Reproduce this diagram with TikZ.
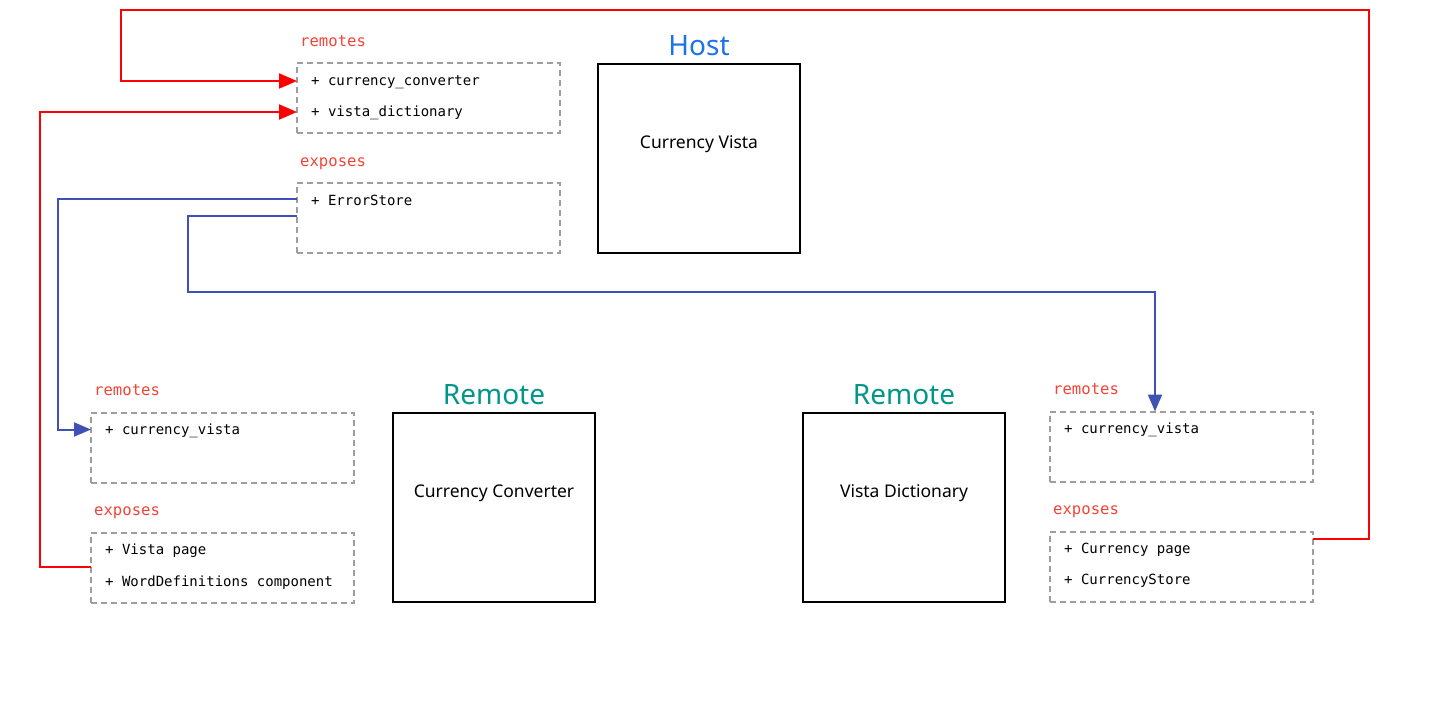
\documentclass[tikz,border=0pt]{standalone}
\usepackage{fontspec}
\setmainfont{Noto Sans}
\setmonofont{DejaVu Sans Mono}
\usetikzlibrary{positioning}
\usetikzlibrary{arrows.meta}
\usetikzlibrary{calc}
\definecolor{hostblue}{HTML}{1A73E8}
\definecolor{remoteteal}{HTML}{009688}
\definecolor{labelred}{HTML}{F44336}
\definecolor{dashgray}{HTML}{9E9E9E}
\definecolor{linkblue}{HTML}{3F51B5}

\begin{document}
\begin{tikzpicture}
  [x=1pt,y=-1pt,
  listbox/.style={draw=dashgray,line width=2pt,dash pattern=on 6pt off 4pt,minimum width=263pt,minimum height=70pt,inner sep=0pt,outer sep=0pt},
  appbox/.style={draw=black,line width=1.2pt,minimum width=202pt,minimum height=189pt,inner sep=0pt,outer sep=0pt},
  apptext/.style={inner sep=0pt,anchor=base,font=\fontsize{17.5}{20}\selectfont},
  hosttitle/.style={inner sep=0pt,anchor=base,text=hostblue,font=\fontsize{28}{32}\selectfont},
  remotetitle/.style={inner sep=0pt,anchor=base,text=remoteteal,font=\fontsize{28}{32}\selectfont},
  grouplabel/.style={inner sep=0pt,anchor=base west,text=labelred,font=\ttfamily\fontsize{15.6}{18}\selectfont},
  item/.style={inner sep=0pt,anchor=base west,font=\ttfamily\fontsize{14}{16}\selectfont},
  redlink/.style={draw=red,line width=2pt,-{Triangle[length=18pt,width=15pt]}},
  bluelink/.style={draw=linkblue,line width=2pt,-{Triangle[length=17pt,width=14pt]}}]
  \useasboundingbox (0,0) rectangle (1440,704);

  % host
  \node[hosttitle] (hosttitle) at (699,55) {Host};
  \node[appbox] (host) at (699,158.5) {};
  \node[apptext] (hostname) at (699,148) {Currency Vista};
  \node[grouplabel] (hremlabel) at (300,46) {remotes};
  \node[listbox] (hrem) at (428.5,98) {};
  \node[item] (hrem1) at (311,85) {+ currency\_converter};
  \node[item] (hrem2) at (311,116) {+ vista\_dictionary};
  \node[grouplabel] (hexplabel) at (300,166) {exposes};
  \node[listbox] (hexp) at (428.5,218) {};
  \node[item] (hexp1) at (311,205) {+ ErrorStore};

  % currency converter
  \node[remotetitle] (convtitle) at (494,404) {Remote};
  \node[appbox] (conv) at (494,507.5) {};
  \node[apptext] (convname) at (494,497) {Currency Converter};
  \node[grouplabel] (cremlabel) at (94,395) {remotes};
  \node[listbox] (crem) at (222.5,447.5) {};
  \node[item] (crem1) at (105,434) {+ currency\_vista};
  \node[grouplabel] (cexplabel) at (94,515) {exposes};
  \node[listbox] (cexp) at (222.5,567.5) {};
  \node[item] (cexp1) at (105,554) {+ Vista page};
  \node[item] (cexp2) at (105,586) {+ WordDefinitions component};

  % vista dictionary
  \node[remotetitle] (dicttitle) at (904,404) {Remote};
  \node[appbox] (dict) at (904,507.5) {};
  \node[apptext] (dictname) at (904,497) {Vista Dictionary};
  \node[grouplabel] (vremlabel) at (1053,394) {remotes};
  \node[listbox] (vrem) at (1181.5,446.5) {};
  \node[item] (vrem1) at (1064,433) {+ currency\_vista};
  \node[grouplabel] (vexplabel) at (1053,514) {exposes};
  \node[listbox] (vexp) at (1181.5,566.5) {};
  \node[item] (vexp1) at (1064,553) {+ Currency page};
  \node[item] (vexp2) at (1064,584) {+ CurrencyStore};

  % links
  \draw[redlink] ($(vexp.north east)+(0,7.5)$) -| (1369,10) -| (121,81) -- ($(hrem.north west)+(0,18)$);
  \draw[redlink] ($(cexp.north west)+(0,34.5)$) -- ++(-51,0) |- ($(hrem.north west)+(0,49)$);
  \draw[bluelink] ($(hexp.north west)+(0,16)$) -- ++(-239,0) |- ($(crem.north west)+(0,17)$);
  \draw[bluelink] ($(hexp.north west)+(0,33)$) -| (188,292) -| ($(vrem.north)+(-26.5,0)$);
\end{tikzpicture}
\end{document}
